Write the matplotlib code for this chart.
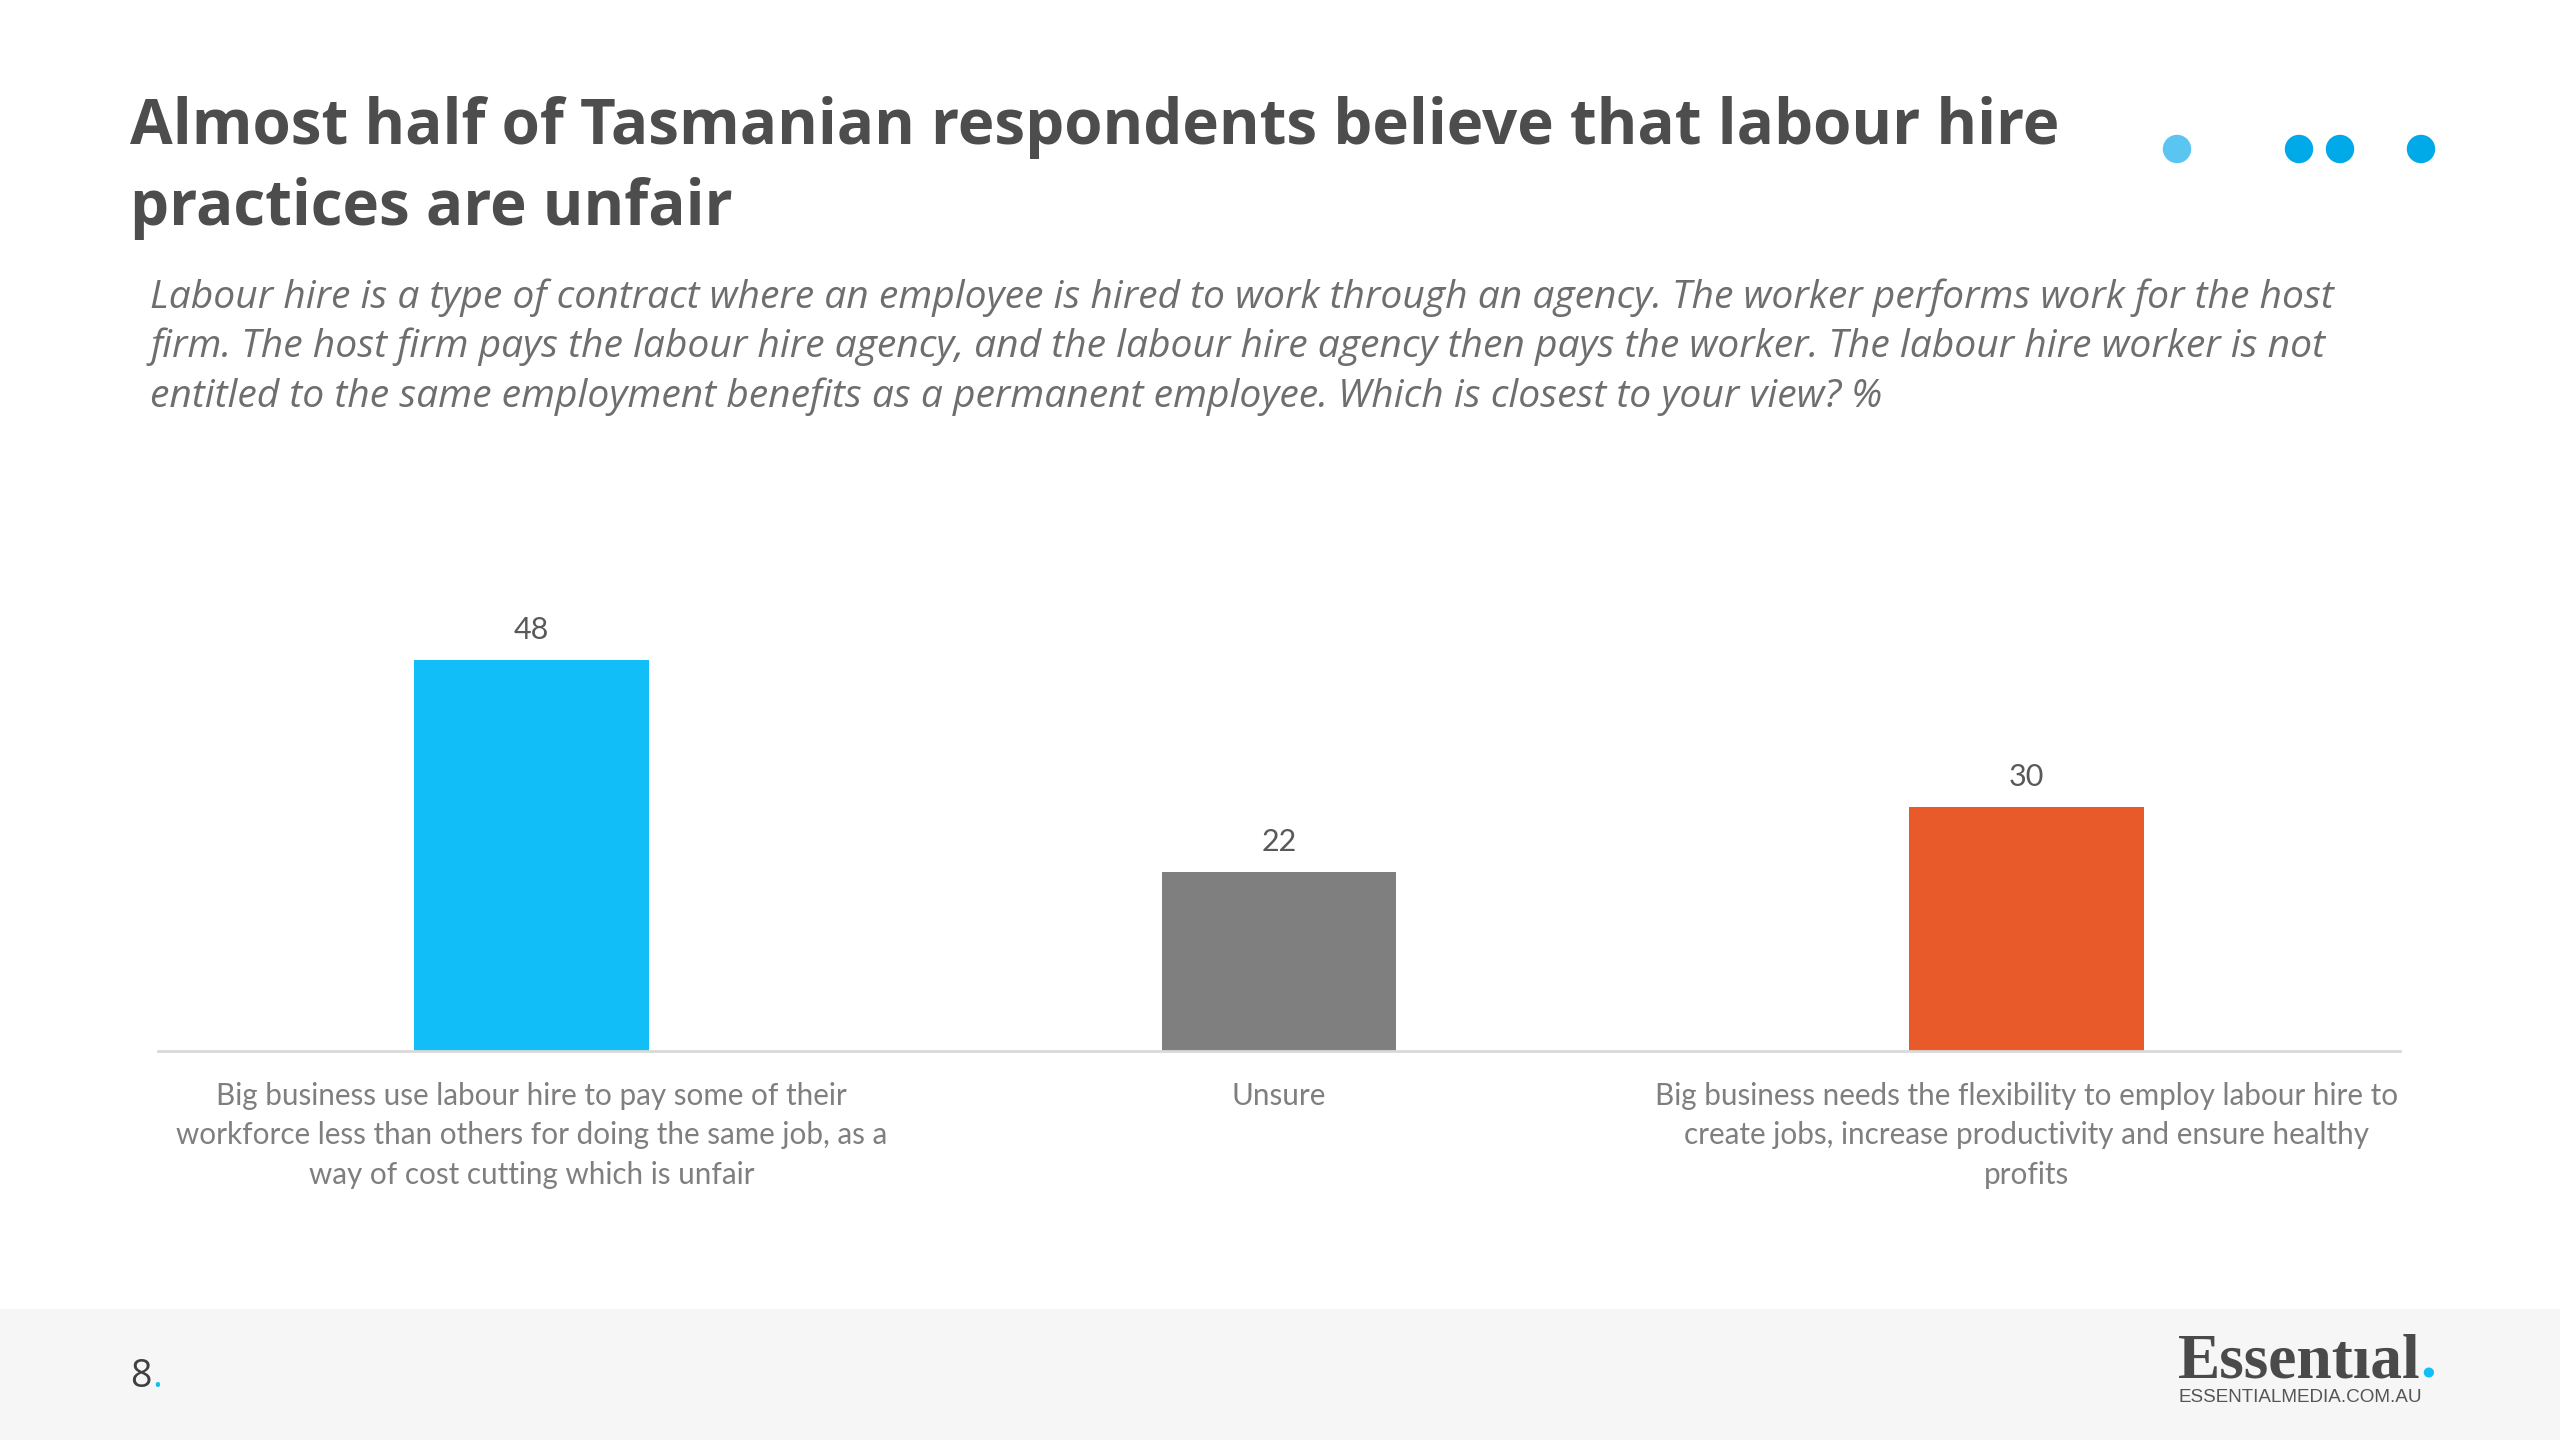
import matplotlib.pyplot as plt
from matplotlib.patches import Rectangle, Ellipse

categories = [
    "Big business use labour hire to pay some of their\nworkforce less than others for doing the same job, as a\nway of cost cutting which is unfair",
    "Unsure",
    "Big business needs the flexibility to employ labour hire to\ncreate jobs, increase productivity and ensure healthy\nprofits",
]
values = [48, 22, 30]
colors = ["#12BEF8", "#7F7F7F", "#E85A2A"]

title = "Almost half of Tasmanian respondents believe that labour hire\npractices are unfair"
subtitle = ("Labour hire is a type of contract where an employee is hired to work through an agency. The worker performs work for the host\n"
            "firm. The host firm pays the labour hire agency, and the labour hire agency then pays the worker. The labour hire worker is not\n"
            "entitled to the same employment benefits as a permanent employee. Which is closest to your view? %")

W, H = 2560, 1440
fig = plt.figure(figsize=(25.6, 14.4), dpi=100)

def fx(x):
    return x / W

def fy(y):
    return 1 - y / H

# footer band
fig.patches.append(Rectangle((0, 0), 1, fy(1309), transform=fig.transFigure,
                             color="#F6F6F6", zorder=0))

fig.text(fx(130), fy(168), title, fontsize=44.6, fontweight="bold", color="#4D4D4D",
         family="Open Sans", va="center", linespacing=1.36)
fig.text(fx(150), fy(347), subtitle, fontsize=28.1, style="italic", color="#6E6E6E",
         family="Open Sans", va="center", linespacing=1.36)

# decorative dots
for cx, c in [(2177, "#5BC5F2"), (2299, "#00A9E8"), (2340, "#00A9E8"), (2421, "#00A9E8")]:
    fig.patches.append(Ellipse((fx(cx), fy(149)), 27 / W, 27 / H, transform=fig.transFigure,
                               color=c, zorder=2))

ax = fig.add_axes([fx(158), fy(1051), fx(2400) - fx(158), (1051 - 562) / H])
x = range(len(values))
bars = ax.bar(x, values, width=0.314, color=colors, zorder=2)
ax.set_xlim(-0.5, 2.5)
ax.set_ylim(0, 60)
for b, v in zip(bars, values):
    ax.text(b.get_x() + b.get_width() / 2, v + 1.9, str(v), ha="center", va="bottom",
            fontsize=22, color="#595959", family="Lato")
ax.set_xticks(list(x))
ax.set_xticklabels(categories, fontsize=21.3, color="#7F7F7F", family="Lato", linespacing=1.5)
ax.tick_params(axis="x", length=0, pad=22)
ax.set_yticks([])
for s in ["top", "right", "left"]:
    ax.spines[s].set_visible(False)
ax.spines["bottom"].set_color("#D9D9D9")
ax.spines["bottom"].set_linewidth(2)

# footer texts
r = fig.canvas.get_renderer()
page = fig.text(fx(130), fy(1387), "8", fontsize=27, color="#404040", family="Open Sans", va="baseline")
e = page.get_window_extent(r)
fig.text(e.x1 / W + 1 / W, fy(1387), ".", fontsize=27, color="#12BEF8", family="Open Sans", va="baseline")

logo = fig.text(fx(2178), fy(1378), "Essent\u0131al", fontsize=45.6, fontweight="bold", color="#4A4A4A",
                family="Liberation Serif", va="baseline")
e = logo.get_window_extent(r)
fig.text(e.x1 / W, fy(1378), ".", fontsize=45.6, fontweight="bold", color="#12BEF8",
         family="Liberation Serif", va="baseline")
fig.text(fx(2178), fy(1398), "ESSENTIALMEDIA.COM.AU", fontsize=13.6, color="#555555",
         family="Liberation Sans", va="center")

fig.savefig("out.png", dpi=100)
